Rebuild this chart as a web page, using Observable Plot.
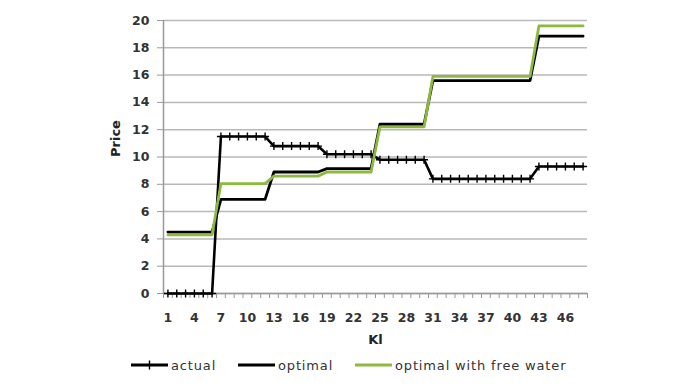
<!DOCTYPE html>
<html>
<head>
<meta charset="utf-8">
<script src="https://cdn.jsdelivr.net/npm/d3@7"></script>
<script src="https://cdn.jsdelivr.net/npm/@observablehq/plot@0.6"></script>
<style>
  html, body { margin: 0; padding: 0; background: #fff; }
  #wrap { position: relative; width: 700px; height: 388px; overflow: hidden; font-family: "DejaVu Sans", Verdana, sans-serif; }
  #legend { position: absolute; left: 0; top: 355px; width: 700px; height: 20px; font-size: 13px; color: #333; letter-spacing: 0.85px; }
  .item { position: absolute; top: 0; display: flex; align-items: center; height: 20px; white-space: nowrap; }
  .item svg { margin-right: 3px; }
</style>
</head>
<body>
<div id="wrap">
  <div id="chart"></div>
  <div id="legend"></div>
</div>
<script>
// Categories (Kl)
const kl = d3.range(1, 49);
// Series values, one per category 1..48
const actual = [
  0, 0, 0, 0, 0, 0,
  11.5, 11.5, 11.5, 11.5, 11.5, 11.5,
  10.8, 10.8, 10.8, 10.8, 10.8, 10.8,
  10.2, 10.2, 10.2, 10.2, 10.2, 10.2,
  9.8, 9.8, 9.8, 9.8, 9.8, 9.8,
  8.4, 8.4, 8.4, 8.4, 8.4, 8.4, 8.4, 8.4, 8.4, 8.4, 8.4, 8.4,
  9.3, 9.3, 9.3, 9.3, 9.3, 9.3
];
const optimal = [
  4.5, 4.5, 4.5, 4.5, 4.5, 4.5,
  6.9, 6.9, 6.9, 6.9, 6.9, 6.9,
  8.9, 8.9, 8.9, 8.9, 8.9, 8.9,
  9.15, 9.15, 9.15, 9.15, 9.15, 9.15,
  12.4, 12.4, 12.4, 12.4, 12.4, 12.4,
  15.6, 15.6, 15.6, 15.6, 15.6, 15.6, 15.6, 15.6, 15.6, 15.6, 15.6, 15.6,
  18.85, 18.85, 18.85, 18.85, 18.85, 18.85
];
const freeWater = [
  4.3, 4.3, 4.3, 4.3, 4.3, 4.3,
  8.05, 8.05, 8.05, 8.05, 8.05, 8.05,
  8.6, 8.6, 8.6, 8.6, 8.6, 8.6,
  8.9, 8.9, 8.9, 8.9, 8.9, 8.9,
  12.2, 12.2, 12.2, 12.2, 12.2, 12.2,
  15.9, 15.9, 15.9, 15.9, 15.9, 15.9, 15.9, 15.9, 15.9, 15.9, 15.9, 15.9,
  19.6, 19.6, 19.6, 19.6, 19.6, 19.6
];
const xTickLabels = [1, 4, 7, 10, 13, 16, 19, 22, 25, 28, 31, 34, 37, 40, 43, 46];
const yTicks = [0, 2, 4, 6, 8, 10, 12, 14, 16, 18, 20];
const seriesNames = ["actual", "optimal", "optimal with free water"];
const colors = { black: "#000000", green: "#8DB93F" };

const tbl = (vals) => kl.map((k, i) => ({ k, v: vals[i] }));
const catBounds = d3.range(0, 49).map(i => i + 0.5);

// thin "+" marker
const plusSymbol = {
  draw(context, size) {
    const r = Math.sqrt(size / Math.PI);
    context.moveTo(-r, 0); context.lineTo(r, 0);
    context.moveTo(0, -r); context.lineTo(0, r);
  }
};

const chart = Plot.plot({
  width: 700,
  height: 388,
  marginLeft: 163,
  marginRight: 113,
  marginTop: 20,
  marginBottom: 95,
  style: { fontFamily: "DejaVu Sans, Verdana, sans-serif", background: "#fff", overflow: "visible" },
  x: { type: "linear", domain: [0.5, 48.5] },
  y: { type: "linear", domain: [0, 20] },
  marks: [
    Plot.gridY(yTicks, { stroke: "#b8b8b8", strokeOpacity: 1, strokeWidth: 1.5 }),
    Plot.ruleX([0.5], { stroke: "#999", strokeWidth: 1.5 }),
    Plot.ruleY([0], { stroke: "#999", strokeWidth: 1.5 }),
    Plot.axisY(yTicks, { tickSize: 6, tickPadding: 8, stroke: "#999", fontSize: 12.5, fontWeight: "bold", fill: "#333", label: null }),
    Plot.axisX(catBounds, { tickSize: 5, stroke: "#999", tickFormat: () => "", label: null }),
    Plot.axisX(xTickLabels, { tickSize: 0, tickPadding: 20, fontSize: 12.5, fontWeight: "bold", fill: "#333", label: null }),
    Plot.text(["Price"], { frameAnchor: "left", dx: -48, rotate: -90, fontSize: 13, fontWeight: "bold", fill: "#222" }),
    Plot.text(["Kl"], { frameAnchor: "bottom", dy: 50, fontSize: 13, fontWeight: "bold", fill: "#222" }),
    Plot.line(tbl(actual), { x: "k", y: "v", stroke: colors.black, strokeWidth: 2.6 }),
    Plot.dot(tbl(actual), { x: "k", y: "v", symbol: plusSymbol, r: 4, stroke: colors.black, strokeWidth: 1.4, fill: "none" }),
    Plot.line(tbl(optimal), { x: "k", y: "v", stroke: colors.black, strokeWidth: 2.8 }),
    Plot.line(tbl(freeWater), { x: "k", y: "v", stroke: colors.green, strokeWidth: 2.8 })
  ]
});
document.getElementById("chart").appendChild(chart);

// Legend
const legend = document.getElementById("legend");
const items = [
  { name: seriesNames[0], color: colors.black, marker: true, left: 131 },
  { name: seriesNames[1], color: colors.black, marker: false, left: 238 },
  { name: seriesNames[2], color: colors.green, marker: false, left: 355 }
];
for (const it of items) {
  const div = document.createElement("div");
  div.className = "item";
  div.style.left = it.left + "px";
  const sw = `<svg width="37" height="14"><line x1="0" y1="7" x2="37" y2="7" stroke="${it.color}" stroke-width="2.8"/>` +
    (it.marker ? `<line x1="18.5" y1="2.5" x2="18.5" y2="11.5" stroke="${it.color}" stroke-width="1.4"/>` : "") + `</svg>`;
  div.innerHTML = sw + `<span>${it.name}</span>`;
  legend.appendChild(div);
}
</script>
</body>
</html>
